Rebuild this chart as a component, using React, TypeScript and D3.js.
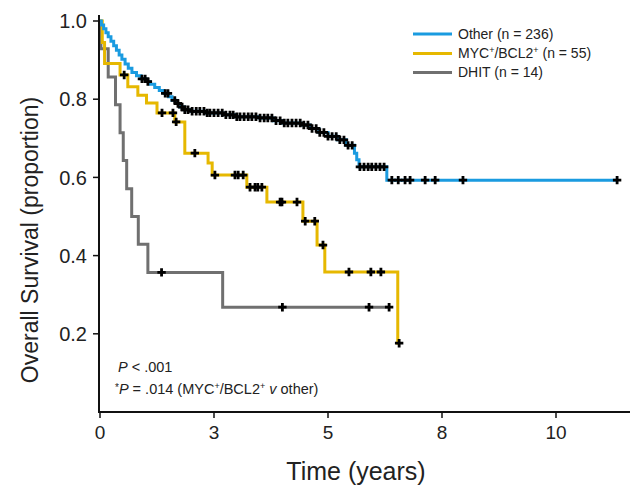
import React from 'react';
import * as d3 from 'd3';

// ---- data (years, survival proportion) ----
const otherTimes = [0, 0.03, 0.08, 0.13, 0.18, 0.24, 0.3, 0.36, 0.42, 0.48, 0.55, 0.62, 0.7, 0.8, 0.9, 1.0, 1.1, 1.2, 1.3, 1.4, 1.5, 1.58, 1.66, 1.75, 1.85, 2.0, 2.3, 2.7, 2.95, 3.5, 3.8, 4.0, 4.4, 4.6, 4.8, 5.0, 5.2, 5.4, 5.58, 5.63, 5.68, 6.29];
const otherSurv = [1.0, 0.99, 0.98, 0.97, 0.96, 0.948, 0.937, 0.925, 0.913, 0.902, 0.89, 0.879, 0.868, 0.86, 0.852, 0.845, 0.838, 0.83, 0.822, 0.815, 0.806, 0.797, 0.789, 0.78, 0.773, 0.769, 0.765, 0.76, 0.755, 0.752, 0.745, 0.739, 0.734, 0.725, 0.715, 0.705, 0.696, 0.682, 0.662, 0.645, 0.627, 0.593];
const otherEnd = 11.34;
const otherCensor = [0.92, 0.99, 1.05, 1.43, 1.49, 1.64, 1.71, 1.8, 1.86, 1.93, 2.02, 2.11, 2.19, 2.28, 2.35, 2.41, 2.5, 2.59, 2.68, 2.76, 2.85, 2.92, 3.0, 3.07, 3.16, 3.25, 3.33, 3.42, 3.51, 3.6, 3.68, 3.77, 3.86, 3.95, 4.04, 4.12, 4.21, 4.3, 4.39, 4.47, 4.56, 4.65, 4.74, 4.82, 4.91, 5.0, 5.09, 5.18, 5.26, 5.35, 5.44, 5.53, 5.7, 5.79, 5.88, 5.96, 6.05, 6.14, 6.23, 6.4, 6.54, 6.69, 6.8, 7.13, 7.35, 7.96, 11.34];

const mycTimes = [0, 0.05, 0.1, 0.44, 0.61, 0.83, 1.02, 1.25, 1.64, 1.86, 2.37, 2.46, 3.22, 3.66, 4.45, 4.76, 4.93, 6.53];
const mycSurv = [1.0, 0.945, 0.891, 0.862, 0.832, 0.81, 0.79, 0.765, 0.742, 0.662, 0.637, 0.606, 0.575, 0.537, 0.488, 0.427, 0.358, 0.176];
const mycEnd = 6.56;
const mycCensor = [0.53, 1.36, 1.6, 1.67, 2.08, 2.52, 2.96, 3.03, 3.14, 3.29, 3.4, 3.46, 3.55, 3.95, 3.99, 4.32, 4.5, 4.71, 4.89, 5.46, 5.94, 6.16, 6.56];

const dhitTimes = [0, 0.02, 0.18, 0.34, 0.44, 0.51, 0.585, 0.695, 0.84, 1.05, 2.69];
const dhitSurv = [1.0, 0.929, 0.857, 0.786, 0.714, 0.643, 0.571, 0.5, 0.429, 0.357, 0.268];
const dhitEnd = 6.34;
const dhitCensor = [1.35, 4.0, 5.9, 6.34];

const xTickValues = [0, 2.5, 5, 7.5, 10];
const yTickValues = [0.2, 0.4, 0.6, 0.8, 1.0];

const legendLabels = ['Other (n = 236)', 'MYC+/BCL2+ (n = 55)', 'DHIT (n = 14)'];

const COLORS = { other: '#1a9be0', myc: '#e6b800', dhit: '#707070' };

const FONT = "'Liberation Sans', Arial, sans-serif";

export default function App() {
  const x = d3.scaleLinear().domain([0, 10]).range([100, 556]);
  const y = d3.scaleLinear().domain([0, 1]).range([412, 21]);

  const series = [
    { key: 'dhit', times: dhitTimes, surv: dhitSurv, end: dhitEnd, censor: dhitCensor, color: COLORS.dhit },
    { key: 'myc', times: mycTimes, surv: mycSurv, end: mycEnd, censor: mycCensor, color: COLORS.myc },
    { key: 'other', times: otherTimes, surv: otherSurv, end: otherEnd, censor: otherCensor, color: COLORS.other },
  ];

  const line = d3
    .line<[number, number]>()
    .x((d) => x(d[0]))
    .y((d) => y(d[1]))
    .curve(d3.curveStepAfter);

  const levelAt = (times: number[], surv: number[], t: number) => {
    const i = d3.bisectRight(times, t) - 1;
    return surv[Math.max(0, i)];
  };

  const plus = 'M-4.2,0H4.2M0,-4.2V4.2';

  const axisColor = '#111';

  return (
    <svg width={641} height={487} style={{ position: 'absolute', left: 0, top: 0, background: '#fff' }} fontFamily={FONT}>
      <rect width={641} height={487} fill="#fff" />
      {/* curves */}
      {series.map((s) => {
        const pts: [number, number][] = s.times.map((t, i) => [t, s.surv[i]]);
        pts.push([s.end, s.surv[s.surv.length - 1]]);
        return <path key={s.key} d={line(pts) || ''} fill="none" stroke={s.color} strokeWidth={3} />;
      })}
      {/* censor marks */}
      {series.map((s) =>
        s.censor.map((t, i) => (
          <path
            key={s.key + i}
            d={plus}
            transform={`translate(${x(t)},${y(levelAt(s.times, s.surv, t))})`}
            stroke="#000"
            strokeWidth={2.8}
            fill="none"
          />
        ))
      )}
      {/* axes */}
      <line x1={99} x2={99} y1={15} y2={412} stroke={axisColor} strokeWidth={2} />
      <line x1={98} x2={630} y1={412} y2={412} stroke={axisColor} strokeWidth={2} />
      {yTickValues.map((v) => (
        <g key={'y' + v}>
          <line x1={93} x2={99} y1={y(v)} y2={y(v)} stroke={axisColor} strokeWidth={1.5} />
          <text x={87} y={y(v)} dy="0.36em" textAnchor="end" fontSize={20} fill="#222">
            {d3.format('.1f')(v)}
          </text>
        </g>
      ))}
      {xTickValues.map((v) => (
        <g key={'x' + v}>
          <line x1={x(v)} x2={x(v)} y1={412} y2={418} stroke={axisColor} strokeWidth={1.5} />
          <text x={x(v)} y={439} textAnchor="middle" fontSize={19} fill="#222">
            {d3.format('.0f')(v)}
          </text>
        </g>
      ))}
      {/* axis titles */}
      <text x={0} y={0} transform="translate(38,240) rotate(-90)" textAnchor="middle" fontSize={23} fill="#222">
        Overall Survival (proportion)
      </text>
      <text x={356} y={480} textAnchor="middle" fontSize={25} fill="#222">
        Time (years)
      </text>
      {/* legend */}
      {[
        { color: COLORS.other, yy: 34 },
        { color: COLORS.myc, yy: 53.5 },
        { color: COLORS.dhit, yy: 72.5 },
      ].map((l, i) => (
        <g key={'lg' + i}>
          <line x1={413} x2={452} y1={l.yy} y2={l.yy} stroke={l.color} strokeWidth={3} />
          <text x={458} y={l.yy} dy="0.35em" fontSize={14} fill="#222">
            {i === 1 ? (
              <>
                MYC<tspan fontSize={9} dy={-5}>+</tspan>
                <tspan dy={5}>/BCL2</tspan>
                <tspan fontSize={9} dy={-5}>+</tspan>
                <tspan dy={5}> (n = 55)</tspan>
              </>
            ) : (
              legendLabels[i]
            )}
          </text>
        </g>
      ))}
      {/* p-values */}
      <text x={118} y={372} fontSize={14.5} fill="#222">
        <tspan fontStyle="italic">P</tspan> &lt; .001
      </text>
      <text x={115} y={394} fontSize={14.5} fill="#222">
        <tspan fontSize={10} dy={-3}>*</tspan>
        <tspan dy={3} fontStyle="italic">P</tspan> = .014 (MYC
        <tspan fontSize={9} dy={-5}>+</tspan>
        <tspan dy={5}>/BCL2</tspan>
        <tspan fontSize={9} dy={-5}>+</tspan>
        <tspan dy={5}> </tspan>
        <tspan fontStyle="italic">v</tspan> other)
      </text>
    </svg>
  );
}
